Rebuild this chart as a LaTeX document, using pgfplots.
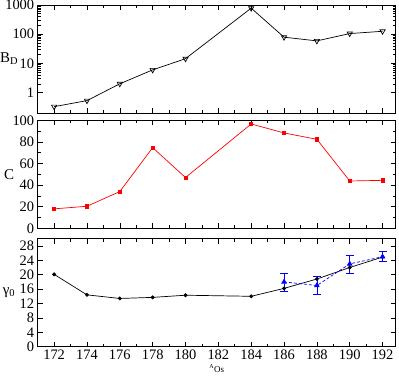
\documentclass[border=0pt]{standalone}
\usepackage{fontspec}
\setmainfont{Liberation Serif}
\usepackage{pgfplots}
\pgfplotsset{compat=1.18}

\pgfplotsset{
  panel/.style={
    scale only axis, width=358bp, height=108bp,
    xmin=171, xmax=192.8,
    xtick={172,174,...,192}, minor xtick={173,175,...,191},
    tick align=inside, xtick pos=both, ytick pos=both,
    major tick length=5bp, minor tick length=3bp,
    tick style={black, line width=0.6bp},
    axis line style={line width=0.9bp},
    ticklabel style={font=\fontsize{14.5}{16}\selectfont},
    /pgf/number format/assume math mode=true,
    ylabel style={at={(axis description cs:-0.08,0.5)}, rotate=-90, anchor=center,
      font=\fontsize{15}{17}\selectfont},
    every axis plot/.append style={line width=0.7bp},
  }
}

\begin{document}
\begin{tikzpicture}
\useasboundingbox (0,0) rectangle (399bp,378bp);

% top panel
\begin{axis}[panel, at={(37.7bp,265bp)}, anchor=south west,
  ymode=log, ymin=0.2, ymax=1000,
  ytick={1,10,100,1000}, yticklabels={1,10,100,\raisebox{-1.5bp}{1000}},
  xticklabels={},
  ylabel={B\textsubscript{D}}]
\addplot[black, mark=triangle, mark size=3bp,
  mark options={rotate=180, fill=white, solid}]
  coordinates {(172,0.33)(174,0.53)(176,2.0)(178,6.0)(180,14.5)
               (184,780)(186,79)(188,59)(190,105)(192,126)};
\end{axis}

% middle panel
\begin{axis}[panel, at={(37.7bp,149.7bp)}, anchor=south west,
  ymin=0, ymax=100, ytick={0,20,...,100}, minor ytick={10,30,...,90},
  xticklabels={},
  ylabel={C}]
\addplot[red, mark=square*, mark size=1.6bp]
  coordinates {(172,18)(174,20.4)(176,34)(178,74.7)(180,47)
               (184,96.6)(186,88.3)(188,82.4)(190,43.8)(192,44.4)};
\end{axis}

% bottom panel
\begin{axis}[panel, at={(37.7bp,31.3bp)}, anchor=south west,
  ymin=0, ymax=30, ytick={0,4,...,28},
  ylabel={γ\textsubscript{0}},
  xlabel={\textsuperscript{A}Os},
  xlabel style={font=\fontsize{9}{10}\selectfont, yshift=2bp}]
\addplot[black, mark=*, mark size=1.6bp]
  coordinates {(172,20.1)(174,14.4)(176,13.4)(178,13.7)(180,14.3)
               (184,14.0)(186,16.2)(188,18.8)(190,22.0)(192,24.9)};
\addplot[blue, densely dashed, mark=triangle*, mark size=2.6bp,
  mark options={solid},
  error bars/.cd, y dir=both, y explicit,
  error bar style={solid, line width=0.7bp},
  error mark options={rotate=90, mark size=4bp, line width=0.7bp}]
  coordinates {(186,18.0) +- (0,2.5)
               (188,17.0) +- (0,2.5)
               (190,23.0) +- (0,2.5)
               (192,25.0) +- (0,1.4)};
\end{axis}
\end{tikzpicture}
\end{document}
